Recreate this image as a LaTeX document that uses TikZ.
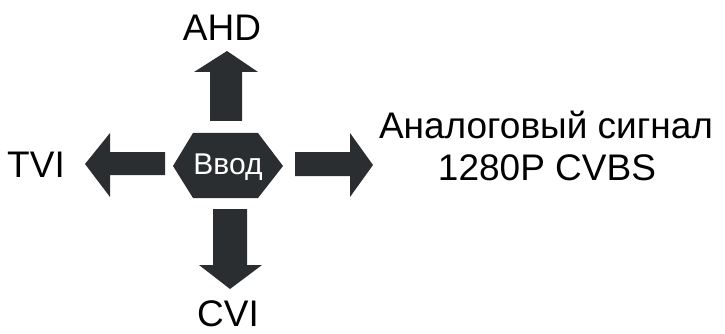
\documentclass[tikz,border=0pt]{standalone}
\usepackage{fontspec}
\setmainfont{Liberation Sans}
\definecolor{shape}{HTML}{2B2E30}
\begin{document}
\begin{tikzpicture}[x=1pt,y=-1pt,
  blk/.style={fill=shape,draw=none},
  lbl/.style={inner sep=0pt,font=\fontsize{37}{42}\selectfont,text=black,align=center}]
\useasboundingbox (0,0) rectangle (725,334);
% hexagon
\fill[blk] (173,166) -- (193,133) -- (258,133) -- (283,166) -- (258,198) -- (193,198) -- cycle;
\node[inner sep=0pt,text=white,font=\fontsize{30}{32}\selectfont] (in) at (228,167) {Ввод};
% up arrow
\fill[blk] (210,121) -- (210,72) -- (194,72) -- (227,51) -- (258,72) -- (242,72) -- (242,121) -- cycle;
% down arrow
\fill[blk] (213,209) -- (247,209) -- (247,265) -- (262,265) -- (230,289) -- (199,265) -- (213,265) -- cycle;
% left arrow
\fill[blk] (165,152) -- (110,152) -- (110,133) -- (85,164) -- (110,197) -- (110,175) -- (165,175) -- cycle;
% right arrow
\fill[blk] (295,152) -- (350,152) -- (350,133) -- (373,165) -- (350,197) -- (350,176) -- (295,176) -- cycle;
% labels
\node[lbl] (ahd) at (222,28) {AHD};
\node[lbl] (tvi) at (36,165) {TVI};
\node[lbl] (cvi) at (228,314) {CVI};
\node[lbl] (an1) at (546,125) {Аналоговый сигнал};
\node[lbl] (an2) at (547,168) {1280P CVBS};
\end{tikzpicture}
\end{document}
